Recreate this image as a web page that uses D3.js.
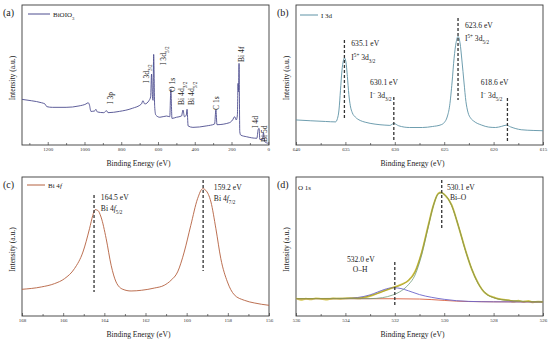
<!DOCTYPE html>
<html>
<head>
<meta charset="utf-8">
<script src="https://cdn.jsdelivr.net/npm/d3@7"></script>
<style>
body { margin: 0; background: #fff; }
text { font-family: "Liberation Serif", "DejaVu Serif", serif; }
</style>
</head>
<body>
<div id="chart"></div>
<script>
// (a) survey spectrum
var surveyBE = [1340, 1288, 1234, 1215, 1205, 1175, 1100, 1030, 992, 980, 973, 965, 945, 938, 930, 895, 880, 872, 810, 740, 690, 682, 672, 648, 640, 635, 630, 627, 623.6, 618, 612, 590, 554, 536, 530, 524, 500, 472, 464, 456, 446, 442, 436, 410, 338, 292, 285, 279, 212, 194, 183, 174, 168, 164.5, 162, 159, 155, 150, 118, 62, 55, 50, 46, 32, 26, 20, 0];
var surveyI = [32.6, 31.6, 30.2, 29.3, 27.4, 26.9, 26.9, 27.9, 29.3, 30.2, 28.6, 24.0, 24.3, 25.5, 23.6, 23.1, 24.5, 23.1, 24.0, 26.2, 29.3, 31.6, 29.3, 31.9, 34.5, 50.7, 34.5, 31.9, 64.7, 27.4, 21.4, 19.8, 20.7, 20.2, 39.8, 19.0, 19.8, 20.7, 25.0, 20.2, 21.4, 25.5, 13.6, 12.6, 13.6, 15.0, 25.0, 14.5, 15.9, 17.9, 20.2, 17.9, 21.4, 44, 38, 58.3, 9.5, 7.1, 5.9, 4.8, 11.0, 11.9, 4.0, 3.8, 8.8, 2.4, 1.2];
var surveyNames = [
  ["I 3p"], ["I 3d", ["3/2", "sub"]], ["I 3d", ["5/2", "sub"]], ["O 1s"],
  ["Bi 4d", ["3/2", "sub"]], ["Bi 4d", ["5/2", "sub"]], ["C 1s"], ["Bi 4f"], ["I 4d"], ["Bi 5d"]
];
var surveyNameBE = [862, 666, 573, 524, 475, 416, 285, 149, 72, 23];
var surveyNameI = [29.3, 44.3, 57.1, 37.9, 28.6, 28.6, 25, 59.3, 12.1, 2.1];
var surveyTicks = [1200, 1000, 800, 600, 400, 200, 0];
var surveyMinor = [1300, 1100, 900, 700, 500, 300, 100];

// (b) I 3d
var i3dBE = [640, 638.5, 637, 636.0, 635.8, 635.65, 635.5, 635.35, 635.2, 635.1, 634.95, 634.8, 634.65, 634.5, 634.3, 634.0, 633.5, 633, 632, 631, 630.5, 630.1, 629.6, 628.5, 627.2, 626.2, 625.3, 625.0, 624.7, 624.45, 624.2, 624.0, 623.8, 623.6, 623.4, 623.2, 623.0, 622.8, 622.6, 622.3, 622.0, 621.2, 620.5, 619.8, 619.2, 618.7, 618.3, 617.2, 616, 615];
var i3dI = [17.9, 17.3, 16.8, 16.5, 19, 25, 39, 53, 60.5, 62.2, 59.5, 49, 36, 28, 23, 20, 17.5, 16.3, 14.9, 14.2, 14.0, 15.4, 13.7, 12.5, 12.5, 13.2, 14.5, 16, 20, 28, 45, 62, 73, 77.5, 73, 60, 45, 31, 23.5, 19, 17, 14.2, 12.8, 12.5, 13.3, 14.2, 13.0, 10.9, 10.4, 10.2];
var i3dTicks = [640, 635, 630, 625, 620, 615];
var i3dMinor = [637.5, 632.5, 627.5, 622.5, 617.5];
var i3dLineBE = [635.1, 630.1, 623.6, 618.6];
var i3dLineTop = [75, 34.3, 90.7, 33.6];
var i3dLineBot = [17.9, 2.1, 32.1, 2.1];
var i3dText1 = ["635.1 eV", "630.1 eV", "623.6 eV", "618.6 eV"];
var i3dText2 = [
  ["I", ["5+", "super"], " 3d", ["3/2", "sub"]],
  ["I", ["\u2212", "super"], " 3d", ["3/2", "sub"]],
  ["I", ["5+", "super"], " 3d", ["5/2", "sub"]],
  ["I", ["\u2212", "super"], " 3d", ["5/2", "sub"]]
];
var i3dTextBE = [634.4, 632.5, 622.9, 621.3];
var i3dTextI1 = [70.7, 43.2, 83.9, 43.2];
var i3dTextI2 = [61, 33.6, 74.3, 33.6];

// (c) Bi 4f
var bi4fBE = [168, 167.06, 166.42, 165.93, 165.45, 165.04, 164.72, 164.56, 164.45, 164.32, 164.16, 163.91, 163.67, 163.43, 163.1, 162.7, 162.2, 161.57, 161.09, 160.76, 160.44, 160.12, 159.8, 159.47, 159.22, 159.07, 158.82, 158.58, 158.34, 158.02, 157.69, 157.2, 156.72, 156];
var bi4fI = [19.2, 20.9, 23.3, 26.9, 34.1, 46.0, 62.8, 72.4, 76.5, 76.0, 71.2, 55.6, 36.5, 24.5, 19.2, 18.0, 18.5, 20.1, 22.1, 25.7, 31.7, 46.0, 65.2, 84.4, 91.6, 90.4, 82.0, 62.8, 41.2, 24.5, 15.3, 11.3, 9.4, 7.7];
var bi4fTicks = [168, 166, 164, 162, 160, 158, 156];
var bi4fMinor = [167, 165, 163, 161, 159, 157];
var bi4fLineBE = [164.5, 159.2];
var bi4fLineTop = [87, 97.8];
var bi4fLineBot = [17.3, 32.4];
var bi4fText1 = ["164.5 eV", "159.2 eV"];
var bi4fText2 = [["Bi 4", ["f", "it"], ["5/2", "sub"]], ["Bi 4", ["f", "it"], ["7/2", "sub"]]];
var bi4fTextBE = [164.17, 158.68];
var bi4fTextI1 = [83.8, 91];
var bi4fTextI2 = [75.6, 82.6];

// (d) O 1s
var o1sRawBE = [536, 535.8, 535.6, 535.4, 535.2, 535.0, 534.8, 534.5, 534.2, 533.8, 533.5, 532.94, 532.53, 532.13, 531.72, 531.45, 531.18, 530.91, 530.64, 530.44, 530.24, 530.14, 529.97, 529.7, 529.43, 529.16, 528.89, 528.62, 528.35, 527.94, 527.6, 527.4, 527.2, 527.0, 526.8, 526.6, 526.4, 526.2, 526];
var o1sRawI = [12.8, 11.6, 12.4, 11.9, 12.7, 12.3, 11.8, 12.6, 12.4, 12.9, 12.7, 14.7, 17.5, 20.0, 22.8, 25.5, 31.9, 45.7, 65.5, 79.4, 88.2, 88.9, 87.0, 79.9, 65.0, 48.6, 33.9, 23.5, 16.6, 13.1, 11.8, 11.4, 10.3, 11.0, 10.2, 10.9, 9.8, 10.4, 10.1];
var o1sBgBE = [536, 532, 531, 530.5, 530, 529.5, 529, 528, 526];
var o1sBgI = [12.5, 12.4, 12.2, 11.8, 11.2, 10.7, 10.4, 10.2, 10.1];
var o1sOHBE = [536, 534, 533.5, 533, 532.7, 532.4, 532.1, 531.9, 531.6, 531.3, 531, 530.5, 530, 529.5, 529, 528, 526];
var o1sOHI = [12.5, 12.6, 13.3, 15.2, 17.2, 19.2, 20.3, 20.2, 19.0, 17.2, 15.4, 13.4, 12.0, 11.0, 10.5, 10.2, 10.1];
var o1sBiOBE = [536, 533, 532.5, 532.1, 531.72, 531.45, 531.18, 530.91, 530.64, 530.44, 530.24, 530.14, 529.97, 529.7, 529.43, 529.16, 528.89, 528.62, 528.35, 527.94, 527.4, 526];
var o1sBiOI = [12.5, 12.5, 13.2, 15.0, 18.3, 22.5, 29.5, 44.0, 64.5, 79.0, 87.8, 88.5, 87.0, 79.5, 65.0, 48.3, 34.0, 23.2, 16.7, 12.8, 11.2, 10.1];
var o1sSumBE = [536, 533.5, 532.94, 532.53, 532.13, 531.72, 531.45, 531.18, 530.91, 530.64, 530.44, 530.24, 530.14, 529.97, 529.7, 529.43, 529.16, 528.89, 528.62, 528.35, 527.94, 527.4, 526.86, 526];
var o1sSumI = [12.5, 12.9, 14.9, 17.3, 20.1, 22.5, 25.7, 31.7, 46.0, 65.2, 79.6, 88.0, 88.7, 87.3, 79.6, 65.2, 48.4, 34.1, 23.3, 16.8, 12.9, 11.3, 10.6, 10.1];
var o1sTicks = [536, 534, 532, 530, 528, 526];
var o1sMinor = [535, 533, 531, 529, 527];
var o1sLineBE = [530.1, 532.0];
var o1sLineTop = [97.8, 38.8];
var o1sLineBot = [61.9, 7.9];
var o1sText1 = ["530.1 eV", "532.0 eV"];
var o1sText2 = [["Bi\u2013O"], ["O\u2013H"]];
var o1sTextBE1 = [529.89, 533.94];
var o1sTextBE2 = [529.77, 533.7];
var o1sTextI1 = [91, 38.5];
var o1sTextI2 = [83.8, 31.3];

var svg = d3.select("#chart").append("svg")
    .attr("width", 550)
    .attr("height", 344);

// write text parts, with sub / super / italic pieces
function rich(sel, parts) {
    parts.forEach(function (p) {
        if (typeof p === "string") {
            sel.append("tspan").text(p);
        } else if (p[1] === "it") {
            sel.append("tspan").attr("font-style", "italic").text(p[0]);
        } else {
            sel.append("tspan")
                .attr("baseline-shift", p[1])
                .attr("font-size", "68%")
                .text(p[0]);
        }
    });
}

function panel(p) {
    var x = d3.scaleLinear().domain(p.dom).range([p.x0, p.x1]);
    var y = d3.scaleLinear().domain([0, 100]).range([p.y1, p.y0]);
    var g = svg.append("g");

    var minorAxis = g.append("g")
        .attr("transform", `translate(0, ${p.y1})`)
        .call(d3.axisBottom(x).tickValues(p.minor).tickSize(-2).tickFormat(""));
    minorAxis.select(".domain").remove();
    minorAxis.selectAll("line").attr("stroke", "#444").attr("stroke-width", 0.7);

    var majorAxis = g.append("g")
        .attr("transform", `translate(0, ${p.y1})`)
        .call(d3.axisBottom(x).tickValues(p.major).tickSizeInner(-3).tickSizeOuter(0)
            .tickPadding(2.5).tickFormat(d3.format("d")));
    majorAxis.select(".domain").remove();
    majorAxis.selectAll("line").attr("stroke", "#444").attr("stroke-width", 0.7);
    majorAxis.selectAll("text").attr("font-size", 5).attr("fill", "#333")
        .attr("font-family", "Liberation Serif");

    g.append("rect")
        .attr("x", p.x0).attr("y", p.y0)
        .attr("width", p.x1 - p.x0).attr("height", p.y1 - p.y0)
        .attr("fill", "none").attr("stroke", "#3a3a3a").attr("stroke-width", 0.9);

    g.append("text")
        .attr("x", (p.x0 + p.x1) / 2 - 7).attr("y", p.y1 + 21)
        .attr("text-anchor", "middle").attr("font-size", 7.6).attr("fill", "#222")
        .text("Binding Energy (eV)");

    g.append("text")
        .attr("transform", `translate(${p.x0 - 10}, ${(p.y0 + p.y1) / 2 + 3}) rotate(-90)`)
        .attr("text-anchor", "middle").attr("dy", "0.35em")
        .attr("font-size", 7.6).attr("fill", "#222")
        .text("Intensity (a.u.)");

    g.append("text")
        .attr("x", p.x0 - 19).attr("y", p.y0 + 11)
        .attr("font-size", 10).attr("fill", "#222")
        .text(p.tag);

    return { g: g, x: x, y: y };
}

function drawLine(P, be, vals, color, w) {
    var pts = be.map(function (b, i) { return [b, vals[i]]; });
    var line = d3.line()
        .x(d => P.x(d[0]))
        .y(d => P.y(d[1]))
        .curve(d3.curveMonotoneX);
    P.g.append("path")
        .datum(pts)
        .attr("d", line)
        .attr("fill", "none")
        .attr("stroke", color)
        .attr("stroke-width", w)
        .attr("stroke-linejoin", "round");
}

function dashes(P, be, top, bot) {
    P.g.selectAll(null)
        .data(be)
        .enter()
        .append("line")
        .attr("x1", d => P.x(d)).attr("x2", d => P.x(d))
        .attr("y1", (d, i) => P.y(top[i])).attr("y2", (d, i) => P.y(bot[i]))
        .attr("stroke", "#333").attr("stroke-width", 1.3)
        .attr("stroke-dasharray", "3,2");
}

function notes(P, lines1, lines2, be1, be2, i1, i2) {
    lines1.forEach(function (t, i) {
        P.g.append("text")
            .attr("x", P.x(be1[i])).attr("y", P.y(i1[i]))
            .attr("font-size", 7.6).attr("fill", "#222")
            .text(t);
        var t2 = P.g.append("text")
            .attr("x", P.x(be2[i])).attr("y", P.y(i2[i]))
            .attr("font-size", 7.6).attr("fill", "#222");
        rich(t2, lines2[i]);
    });
}

function legend(P, x1, x2, yy, color, parts) {
    if (color) {
        P.g.append("line")
            .attr("x1", x1).attr("x2", x2).attr("y1", yy).attr("y2", yy)
            .attr("stroke", color).attr("stroke-width", 1);
    }
    var t = P.g.append("text")
        .attr("x", x2 + 3).attr("y", yy + 2.5)
        .attr("font-size", 7).attr("fill", "#222");
    rich(t, parts);
}

// (a)
var A = panel({ x0: 22, x1: 269, y0: 5, y1: 145, dom: [1340, -4], major: surveyTicks, minor: surveyMinor, tag: "(a)" });
drawLine(A, surveyBE, surveyI, "#4d4d8f", 0.9);
legend(A, 28, 50, 14, "#4d4d8f", ["BiOIO", ["3", "sub"]]);
surveyNames.forEach(function (parts, i) {
    var t = A.g.append("text")
        .attr("transform", `translate(${A.x(surveyNameBE[i])}, ${A.y(surveyNameI[i])}) rotate(-90)`)
        .attr("dy", "0.35em")
        .attr("font-size", 7.6).attr("fill", "#222");
    rich(t, parts);
});

// (b)
var B = panel({ x0: 296, x1: 543, y0: 5, y1: 145, dom: [640, 615], major: i3dTicks, minor: i3dMinor, tag: "(b)" });
drawLine(B, i3dBE, i3dI, "#5f93a6", 0.9);
legend(B, 300, 318, 15, "#5f93a6", ["I 3d"]);
dashes(B, i3dLineBE, i3dLineTop, i3dLineBot);
notes(B, i3dText1, i3dText2, i3dTextBE, i3dTextBE, i3dTextI1, i3dTextI2);

// (c)
var C = panel({ x0: 22, x1: 269, y0: 177, y1: 316, dom: [168, 156], major: bi4fTicks, minor: bi4fMinor, tag: "(c)" });
drawLine(C, bi4fBE, bi4fI, "#b4603e", 0.9);
legend(C, 27, 45, 185, "#b4603e", ["Bi 4", ["f", "it"]]);
dashes(C, bi4fLineBE, bi4fLineTop, bi4fLineBot);
notes(C, bi4fText1, bi4fText2, bi4fTextBE, bi4fTextBE, bi4fTextI1, bi4fTextI2);

// (d)
var D = panel({ x0: 296, x1: 543, y0: 177, y1: 316, dom: [536, 526], major: o1sTicks, minor: o1sMinor, tag: "(d)" });
drawLine(D, o1sRawBE, o1sRawI, "#d6c94f", 1.8);
drawLine(D, o1sBgBE, o1sBgI, "#d9603f", 0.9);
drawLine(D, o1sOHBE, o1sOHI, "#6b63c9", 0.9);
drawLine(D, o1sBiOBE, o1sBiOI, "#6f9a7c", 0.8);
drawLine(D, o1sSumBE, o1sSumI, "#a39a2e", 0.8);
legend(D, 290, 295, 187, null, ["O 1s"]);
dashes(D, o1sLineBE, o1sLineTop, o1sLineBot);
notes(D, o1sText1, o1sText2, o1sTextBE1, o1sTextBE2, o1sTextI1, o1sTextI2);
</script>
</body>
</html>
